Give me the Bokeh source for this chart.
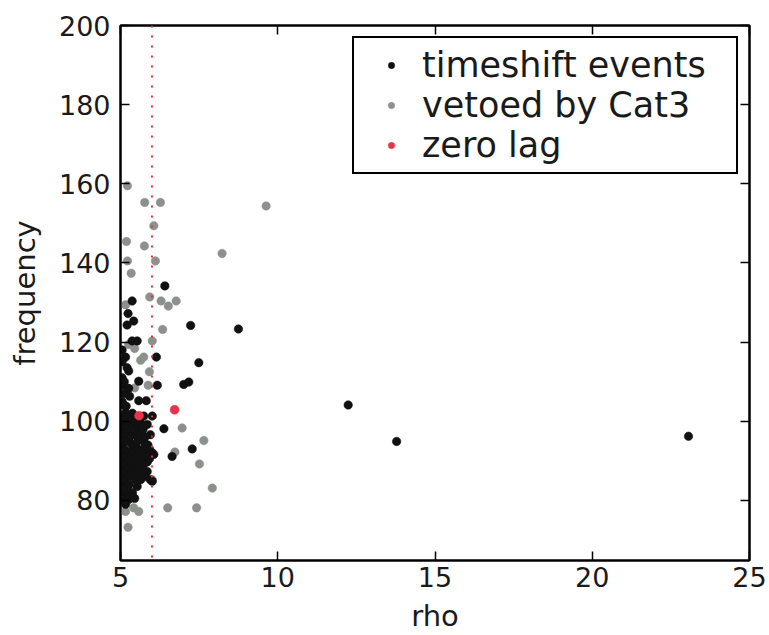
from bokeh.plotting import figure
from bokeh.models import (ColumnDataSource, Span, Legend, LegendItem, LinearAxis,
                          FixedTicker, Range1d)
from bokeh.embed import file_html
from bokeh.resources import INLINE

# ---- data ----
ts_rho = [23.06, 12.24, 13.78, 8.75, 6.41, 7.23, 7.49, 7.01, 7.17, 7.28, 6.64, 6.38,
          6.06, 6.14, 6.17, 5.37, 5.24, 5.42, 5.21, 5.37, 5.53, 5.16, 5.21, 5.26,
          5.58, 5.26, 5.29, 5.58, 5.82, 5.18, 5.16, 5.74, 6.01, 5.21, 5.85, 5.53,
          5.42, 5.69, 5.95, 5.32, 5.74, 5.87, 5.85, 6.01, 5.64, 5.85, 5.69, 5.85,
          5.95, 6.01, 5.48, 5.64, 5.53, 5.21, 5.26, 5.16,
          5.05, 5.05, 5.05, 5.05, 5.05, 5.05, 5.05, 5.05, 5.05, 5.05, 5.05, 5.05, 5.05, 5.05, 5.05,
          5.12, 5.12, 5.12, 5.12, 5.12, 5.12, 5.12, 5.12, 5.12, 5.12, 5.12, 5.12, 5.12,
          5.28, 5.28, 5.28, 5.28, 5.28, 5.28, 5.28, 5.28, 5.28,
          5.38, 5.38, 5.38, 5.38, 5.38, 5.38, 5.38,
          5.45, 5.45, 5.45, 5.45, 5.45, 5.45,
          5.55, 5.55, 5.55, 5.55, 5.55,
          5.62, 5.62, 5.62, 5.62,
          5.72, 5.72, 5.72, 5.72,
          5.78, 5.78,
          5.92, 5.92]
ts_freq = [96.2, 104.1, 94.9, 123.3, 134.2, 124.2, 114.8, 109.3, 109.9, 93.0, 91.1, 98.1,
           91.6, 116.2, 109.1, 130.4, 127.2, 125.3, 124.3, 120.3, 120.3, 116.2, 113.5, 112.7,
           110.1, 108.3, 106.3, 105.2, 105.2, 103.8, 102.1, 101.3, 101.3, 99.6, 99.2, 98.3,
           96.6, 96.6, 96.6, 94.5, 94.9, 94.0, 92.4, 92.0, 90.3, 89.7, 87.8, 87.3,
           85.2, 84.8, 85.2, 85.2, 83.5, 81.0, 80.2, 79.0,
           82, 84, 86, 88, 90, 92, 94, 96, 98, 100, 105, 109, 111, 115, 118,
           80, 83, 85, 87, 89, 91, 93, 95, 97, 101, 104, 107, 110,
           82, 84, 86, 88, 90, 92, 96, 98, 101,
           82, 87, 89, 91, 93, 99, 102,
           80.5, 88, 90, 92, 94, 100,
           86.5, 88.5, 91, 93, 95,
           87, 92.5, 97, 100,
           89, 91, 93, 98,
           86, 96,
           90.5, 93]

veto_rho = [5.22, 5.77, 6.27, 6.06, 5.19, 5.76, 8.23, 6.11, 5.22, 5.34, 9.63, 5.93,
            5.16, 6.29, 6.52, 6.77, 6.34, 6.01, 5.26, 5.45, 5.64, 5.74, 5.92, 5.88,
            5.45, 5.32, 6.96, 7.65, 6.73, 7.51, 7.92, 6.50, 7.42, 5.16, 5.42, 5.58,
            5.24, 6.01]
veto_freq = [159.5, 155.3, 155.3, 149.4, 145.4, 144.3, 142.4, 140.5, 140.5, 137.4, 154.4, 131.4,
             129.4, 130.4, 129.1, 130.4, 123.2, 120.3, 119.4, 118.4, 115.4, 116.2, 112.5, 109.1,
             108.4, 98.7, 98.3, 95.1, 92.2, 89.2, 83.1, 78.1, 78.1, 77.2, 78.1, 77.2,
             73.2, 85.2]

zero_rho = [6.72, 5.59]
zero_freq = [102.9, 101.4]

threshold = 6.0
x_ticks = [5, 10, 15, 20, 25]
y_ticks = [80, 100, 120, 140, 160, 180, 200]

FONT = "DejaVu Sans"
TXT = "#1a1a1a"

p = figure(width=769, height=635, output_backend="svg", toolbar_location=None,
           x_range=Range1d(5, 25), y_range=Range1d(64.8, 200))
p.min_border_left = 120
p.min_border_right = 20
p.min_border_top = 25
p.min_border_bottom = 75
p.background_fill_color = "white"
p.border_fill_color = "white"
p.outline_line_color = "black"
p.outline_line_width = 2
p.xgrid.visible = False
p.ygrid.visible = False

r_veto = p.scatter(x="x", y="y", source=ColumnDataSource(dict(x=veto_rho, y=veto_freq)),
                   size=8.5, fill_color="#8c918c", line_color="#8c918c", line_width=0.5)
r_ts = p.scatter(x="x", y="y", source=ColumnDataSource(dict(x=ts_rho, y=ts_freq)),
                 size=8.5, fill_color="#111111", line_color="#111111", line_width=0.5)
r_zero = p.scatter(x="x", y="y", source=ColumnDataSource(dict(x=zero_rho, y=zero_freq)),
                   size=9, fill_color="#e8334a", line_color="#e8334a", line_width=0.5)

p.add_layout(Span(location=threshold, dimension="height", line_color="#e0303f",
                  line_width=2, line_dash="2 8"))

def style_axis(ax, ticks, show_labels):
    ax.ticker = FixedTicker(ticks=ticks)
    ax.axis_line_color = "black"
    ax.axis_line_width = 2
    ax.major_tick_line_color = "black"
    ax.major_tick_line_width = 1.5
    ax.major_tick_in = 9
    ax.major_tick_out = 0
    ax.minor_tick_line_color = None
    ax.major_label_text_font = FONT
    ax.major_label_text_color = TXT
    ax.axis_label_text_font = FONT
    ax.axis_label_text_font_style = "normal"
    ax.axis_label_text_color = TXT
    ax.axis_label_text_font_size = "29px"
    if show_labels:
        ax.major_label_text_font_size = "27px"
    else:
        ax.major_label_text_font_size = "1px"
        ax.major_label_text_color = None
        ax.major_label_standoff = 0

xa = p.xaxis[0]
ya = p.yaxis[0]
style_axis(xa, x_ticks, True)
style_axis(ya, y_ticks, True)
xa.axis_label = "rho"
ya.axis_label = "frequency"
xa.major_label_standoff = 6
ya.major_label_standoff = 10
xa.axis_label_standoff = 9
ya.axis_label_standoff = 14

ax_top = LinearAxis()
style_axis(ax_top, x_ticks, False)
p.add_layout(ax_top, "above")
ax_right = LinearAxis()
style_axis(ax_right, y_ticks, False)
p.add_layout(ax_right, "right")

legend = Legend(items=[LegendItem(label="timeshift events", renderers=[r_ts]),
                       LegendItem(label="vetoed by Cat3", renderers=[r_veto]),
                       LegendItem(label="zero lag", renderers=[r_zero])],
                location="top_right")
legend.margin = 11
legend.padding = 7
legend.spacing = 0
legend.glyph_width = 60
legend.glyph_height = 16
legend.label_height = 16
legend.label_width = 307
legend.label_standoff = 1
legend.label_text_font = FONT
legend.label_text_font_size = "35px"
legend.label_text_color = TXT
legend.border_line_color = "black"
legend.border_line_alpha = 1
legend.border_line_width = 2
legend.background_fill_color = "white"
legend.background_fill_alpha = 1
p.add_layout(legend)

open("out.html", "w").write(file_html(p, INLINE))
